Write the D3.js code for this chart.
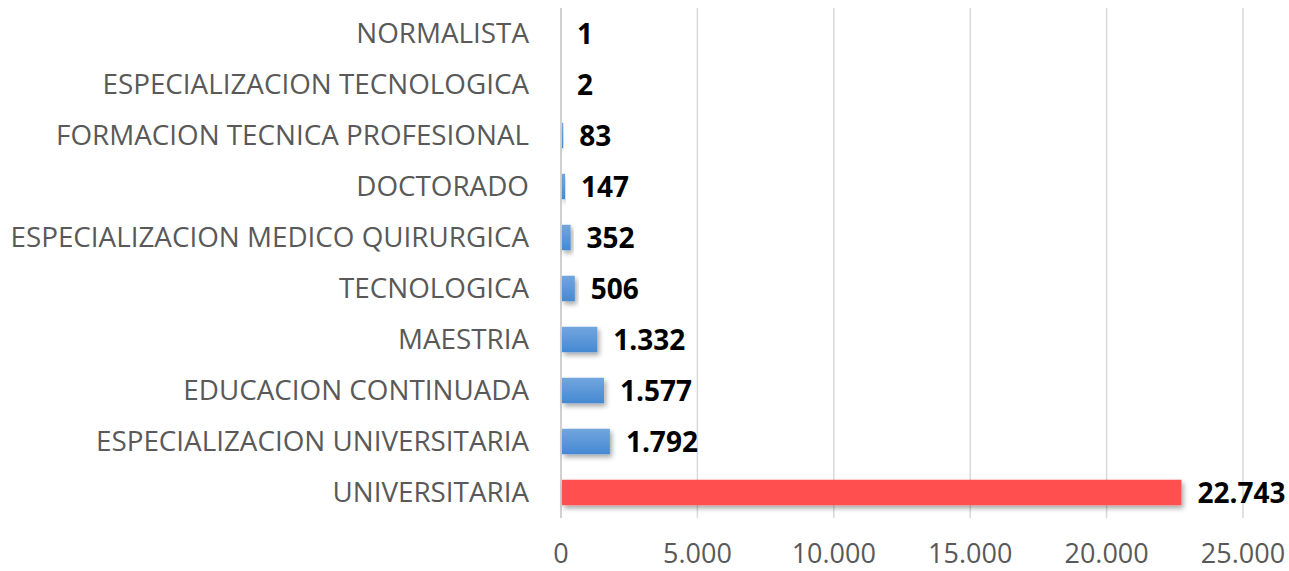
<!DOCTYPE html>
<html>
<head>
<meta charset="utf-8">
<script src="https://cdn.jsdelivr.net/npm/d3@7"></script>
<style>
  body { margin: 0; background: #fff; }
  svg { display: block; font-family: "Open Sans", sans-serif; }
</style>
</head>
<body>
<div id="chart"></div>
<script>
// categories from top to bottom, as in the reference
const categories = [
  "NORMALISTA",
  "ESPECIALIZACION TECNOLOGICA",
  "FORMACION TECNICA PROFESIONAL",
  "DOCTORADO",
  "ESPECIALIZACION MEDICO QUIRURGICA",
  "TECNOLOGICA",
  "MAESTRIA",
  "EDUCACION CONTINUADA",
  "ESPECIALIZACION UNIVERSITARIA",
  "UNIVERSITARIA"
];
const values = [1, 2, 83, 147, 352, 506, 1332, 1577, 1792, 22743];
const xTicks = [0, 5000, 10000, 15000, 20000, 25000];

const width = 1289, height = 571;
const margin = { top: 8, right: 46, bottom: 53, left: 561 };

// numbers with a dot as thousands separator
const fmt = d3.formatLocale({ decimal: ",", thousands: ".", grouping: [3], currency: ["", ""] }).format(",d");

const svg = d3.select("#chart")
  .append("svg")
  .attr("width", width)
  .attr("height", height);

const defs = svg.append("defs");
const blue = defs.append("linearGradient").attr("id", "blueGrad")
  .attr("x1", 0).attr("y1", 0).attr("x2", 0).attr("y2", 1);
blue.append("stop").attr("offset", "0%").attr("stop-color", "#72a6de");
blue.append("stop").attr("offset", "100%").attr("stop-color", "#4589d3");

const shadow = defs.append("filter").attr("id", "shadow")
  .attr("x", "-20%").attr("y", "-30%").attr("width", "150%").attr("height", "190%");
shadow.append("feDropShadow")
  .attr("dx", 2).attr("dy", 3).attr("stdDeviation", 2.5)
  .attr("flood-color", "#000").attr("flood-opacity", 0.35);

const x = d3.scaleLinear()
  .domain([0, 25000])
  .range([margin.left, 1243]);

const y = d3.scaleBand()
  .domain(categories)
  .range([margin.top, height - margin.bottom])
  .paddingInner(0.5)
  .paddingOuter(0.25);

// vertical gridlines
svg.append("g")
  .selectAll("line")
  .data(xTicks.slice(1))
  .join("line")
    .attr("x1", d => x(d)).attr("x2", d => x(d))
    .attr("y1", margin.top).attr("y2", height - margin.bottom)
    .attr("stroke", "#d9d9d9")
    .attr("stroke-width", 1.5);

// left axis line
svg.append("line")
  .attr("x1", x(0)).attr("x2", x(0))
  .attr("y1", margin.top).attr("y2", height - margin.bottom)
  .attr("stroke", "#d0d0d0")
  .attr("stroke-width", 2);

// x tick labels
svg.append("g")
  .selectAll("text")
  .data(xTicks)
  .join("text")
    .attr("x", d => x(d))
    .attr("y", 563)
    .attr("text-anchor", "middle")
    .attr("fill", "#595959")
    .attr("font-size", 27)
    .text(d => fmt(d));

// category labels
svg.append("g")
  .selectAll("text")
  .data(categories)
  .join("text")
    .attr("x", 529)
    .attr("y", d => y(d) + y.bandwidth() / 2)
    .attr("dy", "0.35em")
    .attr("text-anchor", "end")
    .attr("fill", "#595959")
    .attr("font-size", 27.8)
    .text(d => d);

// bars
svg.append("g")
  .selectAll("rect")
  .data(values)
  .join("rect")
    .attr("x", x(0) + 1)
    .attr("y", (d, i) => y(categories[i]))
    .attr("width", d => Math.max(0, x(d) - x(0) - 1))
    .attr("height", y.bandwidth())
    .attr("fill", (d, i) => i === values.length - 1 ? "#ff4f4f" : "url(#blueGrad)")
    .attr("filter", "url(#shadow)");

// value labels
svg.append("g")
  .selectAll("text")
  .data(values)
  .join("text")
    .attr("x", d => x(d) + 16)
    .attr("y", (d, i) => y(categories[i]) + y.bandwidth() / 2 + 1)
    .attr("dy", "0.35em")
    .attr("fill", "#000")
    .attr("font-weight", "bold")
    .attr("font-size", 28)
    .text(d => fmt(d));
</script>
</body>
</html>
